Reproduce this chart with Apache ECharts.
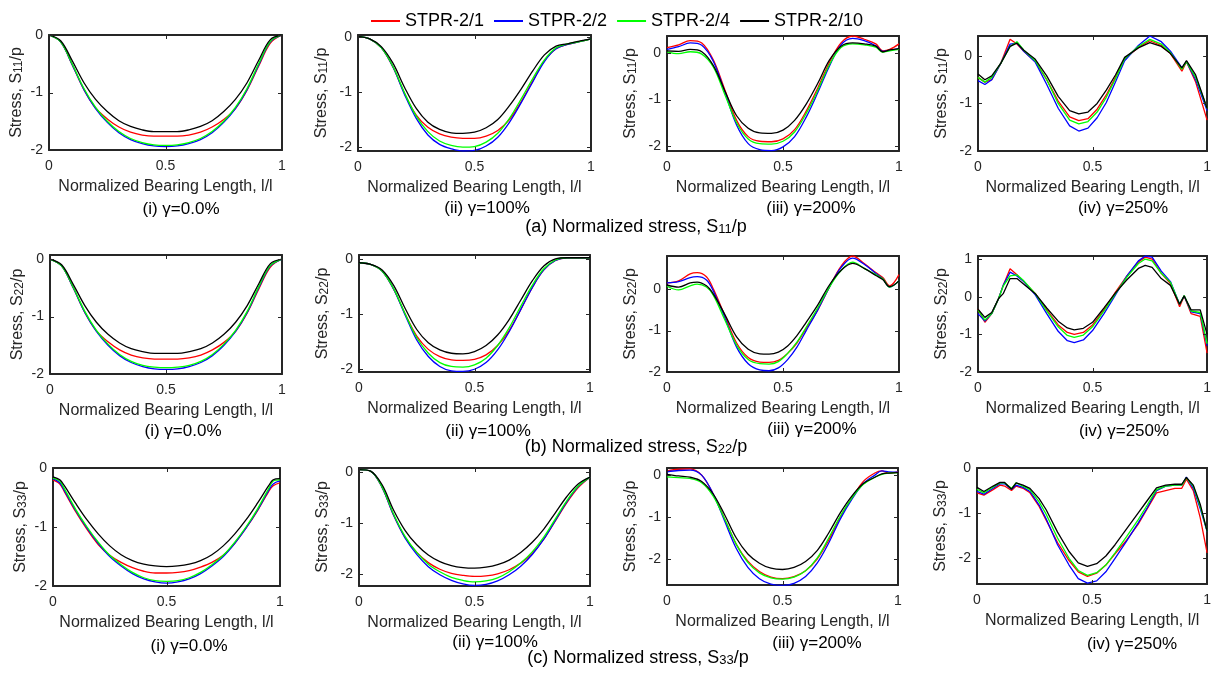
<!DOCTYPE html>
<html>
<head>
<meta charset="utf-8">
<script src="https://cdn.jsdelivr.net/npm/echarts@6/dist/echarts.min.js"></script>
<style>
  html, body { margin: 0; padding: 0; background: #ffffff; }
  #chart { width: 1214px; height: 675px; }
</style>
</head>
<body>
<div id="chart"></div>
<script>
// ---- Series identity ----
const seriesNames = ['STPR-2/1', 'STPR-2/2', 'STPR-2/4', 'STPR-2/10'];
const seriesColors = ['#ff0000', '#0000ff', '#00ff00', '#000000'];

// ---- Tick values / labels ----
const xTicks = [0, 0.5, 1];
const yTicksStd = [-2, -1, 0];
const yTicksWide = [-2, -1, 0, 1];
const gammaLabels = ['(i) γ=0.0%', '(ii) γ=100%', '(iii) γ=200%', '(iv) γ=250%'];
const rowCaptions = ['(a) Normalized stress, S{s|11}/p', '(b) Normalized stress, S{s|22}/p', '(c) Normalized stress, S{s|33}/p'];
const yNames = ['Stress, S{s|11}/p', 'Stress, S{s|22}/p', 'Stress, S{s|33}/p'];
const xName = 'Normalized Bearing Length, l/l';

// ---- Normalized bearing length sample positions ----
const xUniform = [0, 0.05, 0.1, 0.15, 0.2, 0.25, 0.3, 0.35, 0.4, 0.45, 0.5, 0.55, 0.6, 0.65, 0.7, 0.75, 0.8, 0.85, 0.9, 0.95, 1];
const xEndDense = [0, 0.05, 0.1, 0.15, 0.2, 0.25, 0.3, 0.35, 0.4, 0.45, 0.5, 0.55, 0.6, 0.65, 0.7, 0.75, 0.8, 0.85, 0.9, 0.93, 0.96, 1];
const xS33g0 = [0, 0.03, 0.05, 0.1, 0.15, 0.2, 0.25, 0.3, 0.35, 0.4, 0.45, 0.5, 0.55, 0.6, 0.65, 0.7, 0.75, 0.8, 0.85, 0.9, 0.95, 0.97, 1];
const xS11g250 = [0, 0.03, 0.06, 0.1, 0.14, 0.17, 0.2, 0.25, 0.3, 0.35, 0.4, 0.44, 0.48, 0.52, 0.56, 0.6, 0.64, 0.7, 0.75, 0.8, 0.84, 0.89, 0.91, 0.95, 1];
const xS22g200 = [0, 0.05, 0.1, 0.13, 0.17, 0.2, 0.25, 0.3, 0.35, 0.4, 0.44, 0.48, 0.52, 0.56, 0.6, 0.65, 0.7, 0.75, 0.8, 0.85, 0.9, 0.93, 0.96, 1];
const xS22g250 = [0, 0.03, 0.06, 0.09, 0.11, 0.14, 0.17, 0.2, 0.25, 0.3, 0.35, 0.39, 0.42, 0.46, 0.5, 0.55, 0.6, 0.65, 0.7, 0.73, 0.76, 0.8, 0.84, 0.88, 0.9, 0.93, 0.97, 1];
const xS33g250 = [0, 0.03, 0.07, 0.1, 0.12, 0.15, 0.17, 0.2, 0.23, 0.27, 0.3, 0.35, 0.4, 0.44, 0.48, 0.52, 0.56, 0.6, 0.65, 0.7, 0.74, 0.78, 0.82, 0.86, 0.89, 0.91, 0.94, 0.97, 1];

// ---- S11/p (rows: STPR-2/1, 2/2, 2/4, 2/10) ----
const s11g0 = [
  [0, -0.12, -0.52, -0.95, -1.27, -1.46, -1.6, -1.69, -1.74, -1.76, -1.76, -1.76, -1.74, -1.69, -1.6, -1.47, -1.28, -0.96, -0.54, -0.14, 0],
  [0, -0.12, -0.52, -0.95, -1.28, -1.52, -1.7, -1.82, -1.89, -1.93, -1.94, -1.93, -1.89, -1.82, -1.7, -1.52, -1.28, -0.95, -0.52, -0.12, 0],
  [0, -0.12, -0.51, -0.93, -1.26, -1.5, -1.68, -1.8, -1.87, -1.91, -1.92, -1.91, -1.87, -1.8, -1.68, -1.5, -1.26, -0.93, -0.5, -0.11, 0],
  [0, -0.1, -0.45, -0.83, -1.12, -1.33, -1.49, -1.59, -1.65, -1.68, -1.68, -1.68, -1.65, -1.59, -1.49, -1.33, -1.12, -0.83, -0.44, -0.08, 0]
];
const s11g100 = [
  [0, -0.04, -0.2, -0.55, -1.03, -1.42, -1.64, -1.76, -1.82, -1.84, -1.84, -1.8, -1.7, -1.5, -1.18, -0.8, -0.44, -0.22, -0.14, -0.09, -0.04],
  [0, -0.04, -0.2, -0.55, -1.05, -1.48, -1.78, -1.95, -2.03, -2.07, -2.06, -1.98, -1.82, -1.55, -1.2, -0.82, -0.45, -0.22, -0.14, -0.09, -0.04],
  [0, -0.04, -0.2, -0.54, -1.02, -1.44, -1.72, -1.89, -1.97, -2.0, -1.99, -1.91, -1.75, -1.48, -1.13, -0.76, -0.42, -0.2, -0.13, -0.09, -0.04],
  [0, -0.04, -0.18, -0.48, -0.92, -1.3, -1.55, -1.68, -1.74, -1.75, -1.73, -1.65, -1.5, -1.25, -0.95, -0.62, -0.33, -0.17, -0.13, -0.08, -0.04]
];
const s11g200 = [
  [0.12, 0.18, 0.27, 0.22, -0.15, -0.8, -1.45, -1.8, -1.9, -1.91, -1.85, -1.65, -1.25, -0.75, -0.2, 0.22, 0.37, 0.3, 0.2, 0.05, 0.08, 0.2],
  [0.08, 0.14, 0.22, 0.17, -0.18, -0.85, -1.55, -1.95, -2.08, -2.1, -2.02, -1.8, -1.38, -0.85, -0.28, 0.18, 0.32, 0.27, 0.16, 0.04, 0.06, 0.1],
  [0.03, -0.01, 0.03, -0.02, -0.3, -0.9, -1.5, -1.85, -1.95, -1.96, -1.9, -1.7, -1.3, -0.8, -0.25, 0.12, 0.2, 0.18, 0.13, 0.02, 0.05, 0.08],
  [0.05, 0.04, 0.08, 0.03, -0.27, -0.82, -1.35, -1.62, -1.72, -1.73, -1.66, -1.45, -1.1, -0.65, -0.15, 0.15, 0.22, 0.2, 0.15, 0.03, 0.07, 0.1]
];
const s11g250 = [
  [-0.45, -0.55, -0.5, -0.15, 0.35, 0.25, 0.1, -0.12, -0.5, -0.95, -1.28, -1.36, -1.32, -1.12, -0.82, -0.45, -0.06, 0.18, 0.32, 0.22, 0.05, -0.32, -0.12, -0.55, -1.35],
  [-0.52, -0.6, -0.5, -0.15, 0.25, 0.27, 0.1, -0.13, -0.6, -1.1, -1.47, -1.58, -1.52, -1.3, -0.98, -0.55, -0.1, 0.22, 0.42, 0.3, 0.1, -0.25, -0.12, -0.5, -1.15],
  [-0.45, -0.55, -0.45, -0.15, 0.2, 0.3, 0.12, -0.1, -0.5, -1.0, -1.35, -1.43, -1.38, -1.18, -0.87, -0.48, -0.06, 0.2, 0.35, 0.25, 0.07, -0.28, -0.12, -0.45, -1.1],
  [-0.38, -0.5, -0.42, -0.15, 0.2, 0.27, 0.12, -0.07, -0.42, -0.85, -1.15, -1.22, -1.18, -1.0, -0.72, -0.4, -0.03, 0.17, 0.28, 0.2, 0.05, -0.25, -0.1, -0.4, -1.1]
];

// ---- S22/p ----
const s22g0 = [
  [0, -0.12, -0.5, -0.93, -1.25, -1.44, -1.58, -1.67, -1.72, -1.74, -1.74, -1.74, -1.72, -1.67, -1.58, -1.45, -1.26, -0.94, -0.52, -0.14, 0],
  [0, -0.12, -0.5, -0.93, -1.26, -1.5, -1.68, -1.8, -1.87, -1.91, -1.92, -1.91, -1.87, -1.8, -1.68, -1.5, -1.26, -0.93, -0.5, -0.12, 0],
  [0, -0.12, -0.49, -0.91, -1.24, -1.48, -1.66, -1.78, -1.85, -1.88, -1.89, -1.88, -1.85, -1.78, -1.66, -1.48, -1.24, -0.91, -0.48, -0.11, 0],
  [0, -0.1, -0.44, -0.81, -1.1, -1.31, -1.46, -1.56, -1.61, -1.64, -1.64, -1.64, -1.61, -1.56, -1.46, -1.31, -1.1, -0.81, -0.43, -0.08, 0]
];
const s22g100 = [
  [-0.07, -0.1, -0.22, -0.55, -1.0, -1.4, -1.64, -1.77, -1.83, -1.84, -1.82, -1.74, -1.57, -1.3, -0.92, -0.52, -0.2, -0.03, 0.02, 0.02, 0.02],
  [-0.07, -0.1, -0.22, -0.55, -1.02, -1.47, -1.77, -1.95, -2.03, -2.04, -2.0, -1.88, -1.65, -1.32, -0.92, -0.52, -0.2, -0.03, 0.02, 0.02, 0.02],
  [-0.07, -0.1, -0.22, -0.54, -1.0, -1.43, -1.71, -1.88, -1.95, -1.96, -1.92, -1.8, -1.57, -1.25, -0.86, -0.48, -0.18, -0.02, 0.02, 0.02, 0.02],
  [-0.07, -0.1, -0.2, -0.48, -0.9, -1.28, -1.52, -1.65, -1.71, -1.72, -1.68, -1.57, -1.38, -1.1, -0.75, -0.4, -0.13, 0.0, 0.02, 0.02, 0.02]
];
const s22g200 = [
  [0.15, 0.2, 0.37, 0.4, 0.3, 0.0, -0.65, -1.3, -1.65, -1.76, -1.77, -1.72, -1.55, -1.3, -0.95, -0.5, 0.05, 0.55, 0.8, 0.62, 0.4, 0.28, 0.08, 0.35],
  [0.15, 0.18, 0.28, 0.3, 0.22, -0.05, -0.7, -1.4, -1.8, -1.95, -1.97, -1.9, -1.7, -1.4, -1.0, -0.5, 0.05, 0.52, 0.75, 0.6, 0.38, 0.25, 0.05, 0.2],
  [0.07, -0.02, 0.08, 0.12, 0.05, -0.15, -0.75, -1.35, -1.7, -1.8, -1.81, -1.75, -1.55, -1.28, -0.92, -0.45, 0.05, 0.45, 0.65, 0.5, 0.35, 0.25, 0.05, 0.2],
  [0.1, 0.05, 0.15, 0.17, 0.08, -0.12, -0.62, -1.15, -1.45, -1.56, -1.57, -1.52, -1.37, -1.12, -0.8, -0.38, 0.1, 0.45, 0.62, 0.5, 0.33, 0.23, 0.06, 0.2]
];
const s22g250 = [
  [-0.33, -0.68, -0.45, -0.05, 0.3, 0.74, 0.58, 0.4, 0.08, -0.35, -0.75, -0.95, -1.0, -0.95, -0.75, -0.35, 0.12, 0.55, 0.92, 1.05, 1.0, 0.62, 0.35, -0.27, 0.02, -0.45, -0.52, -1.5],
  [-0.45, -0.65, -0.45, -0.05, 0.3, 0.65, 0.55, 0.4, 0.05, -0.45, -0.92, -1.17, -1.22, -1.15, -0.9, -0.45, 0.05, 0.55, 0.95, 1.08, 1.05, 0.68, 0.4, -0.2, 0.02, -0.4, -0.45, -1.3],
  [-0.35, -0.62, -0.45, -0.05, 0.28, 0.55, 0.58, 0.42, 0.08, -0.38, -0.8, -1.03, -1.08, -1.02, -0.8, -0.38, 0.08, 0.52, 0.88, 1.0, 0.95, 0.62, 0.38, -0.2, 0.03, -0.38, -0.42, -1.25],
  [-0.33, -0.55, -0.42, -0.05, 0.08, 0.48, 0.48, 0.33, 0.08, -0.3, -0.65, -0.83, -0.88, -0.84, -0.68, -0.3, 0.1, 0.45, 0.75, 0.83, 0.78, 0.48, 0.3, -0.2, 0.02, -0.35, -0.35, -1.0]
];

// ---- S33/p ----
const s33g0 = [
  [-0.2, -0.27, -0.4, -0.74, -1.04, -1.3, -1.48, -1.6, -1.69, -1.75, -1.78, -1.78, -1.77, -1.74, -1.68, -1.6, -1.48, -1.28, -1.02, -0.73, -0.4, -0.3, -0.25],
  [-0.18, -0.25, -0.38, -0.72, -1.02, -1.28, -1.5, -1.66, -1.79, -1.88, -1.93, -1.95, -1.93, -1.88, -1.79, -1.66, -1.5, -1.28, -1.02, -0.72, -0.38, -0.27, -0.22],
  [-0.17, -0.22, -0.35, -0.7, -1.0, -1.26, -1.48, -1.64, -1.77, -1.86, -1.91, -1.92, -1.91, -1.86, -1.77, -1.64, -1.48, -1.26, -1.0, -0.7, -0.35, -0.22, -0.2],
  [-0.15, -0.2, -0.3, -0.6, -0.88, -1.12, -1.32, -1.47, -1.57, -1.63, -1.66, -1.67, -1.66, -1.63, -1.57, -1.47, -1.32, -1.12, -0.88, -0.6, -0.3, -0.2, -0.18]
];
const s33g100 = [
  [0.05, 0.02, -0.3, -0.85, -1.29, -1.58, -1.78, -1.91, -1.99, -2.03, -2.05, -2.04, -2.0, -1.92, -1.79, -1.6, -1.32, -0.96, -0.6, -0.3, -0.1],
  [0.05, 0.02, -0.3, -0.85, -1.3, -1.62, -1.86, -2.02, -2.13, -2.2, -2.23, -2.21, -2.14, -2.02, -1.85, -1.62, -1.32, -0.95, -0.58, -0.28, -0.1],
  [0.05, 0.02, -0.29, -0.83, -1.27, -1.58, -1.81, -1.96, -2.07, -2.13, -2.16, -2.14, -2.08, -1.96, -1.79, -1.57, -1.28, -0.92, -0.56, -0.27, -0.1],
  [0.05, 0.02, -0.25, -0.75, -1.15, -1.43, -1.63, -1.76, -1.84, -1.88, -1.89, -1.87, -1.82, -1.73, -1.58, -1.38, -1.12, -0.8, -0.48, -0.23, -0.1]
];
const s33g200 = [
  [0.1, 0.14, 0.15, 0.0, -0.45, -1.05, -1.65, -2.05, -2.3, -2.43, -2.47, -2.42, -2.28, -2.0, -1.55, -1.0, -0.55, -0.15, 0.05, 0.1, 0.05, 0.08],
  [0.08, 0.11, 0.12, 0.0, -0.45, -1.1, -1.75, -2.2, -2.47, -2.6, -2.63, -2.58, -2.42, -2.1, -1.62, -1.05, -0.58, -0.2, 0.0, 0.1, 0.08, 0.07],
  [-0.04, -0.06, -0.08, -0.18, -0.5, -1.05, -1.65, -2.08, -2.33, -2.45, -2.48, -2.43, -2.28, -1.98, -1.5, -0.98, -0.55, -0.22, -0.05, 0.02, 0.05, 0.06],
  [0.02, -0.02, -0.05, -0.15, -0.45, -0.95, -1.5, -1.88, -2.1, -2.22, -2.25, -2.2, -2.06, -1.8, -1.38, -0.9, -0.5, -0.2, -0.05, 0.03, 0.05, 0.06]
];
const s33g250 = [
  [-0.55, -0.6, -0.48, -0.38, -0.4, -0.5, -0.4, -0.45, -0.55, -0.85, -1.15, -1.65, -2.05, -2.3, -2.4, -2.33, -2.15, -1.9, -1.6, -1.25, -0.9, -0.55, -0.5, -0.45, -0.45, -0.25, -0.5, -1.1, -1.88],
  [-0.52, -0.58, -0.45, -0.35, -0.35, -0.47, -0.38, -0.43, -0.52, -0.82, -1.12, -1.7, -2.15, -2.45, -2.55, -2.5, -2.3, -2.0, -1.62, -1.22, -0.88, -0.5, -0.4, -0.38, -0.38, -0.2, -0.45, -0.9, -1.4],
  [-0.47, -0.55, -0.42, -0.33, -0.33, -0.45, -0.33, -0.4, -0.48, -0.75, -1.02, -1.55, -2.0, -2.27, -2.38, -2.32, -2.15, -1.88, -1.52, -1.15, -0.82, -0.48, -0.4, -0.38, -0.38, -0.22, -0.4, -0.85, -1.4],
  [-0.43, -0.52, -0.4, -0.32, -0.32, -0.47, -0.33, -0.38, -0.45, -0.68, -0.92, -1.42, -1.85, -2.1, -2.18, -2.12, -1.95, -1.7, -1.35, -1.0, -0.72, -0.44, -0.38, -0.36, -0.36, -0.21, -0.38, -0.8, -1.4]
];

// ---- Panels: data source, y extent and plot box (left, top, width, height) ----
const panels = [
  { row: 0, col: 0, x: xUniform,  ys: s11g0,   yMin: -2,    yMax: 0,    yTicks: yTicksStd,  box: [49, 35, 233, 115],  smooth: true,  nameGap: 24 },
  { row: 0, col: 1, x: xUniform,  ys: s11g100, yMin: -2.07, yMax: 0.03, yTicks: yTicksStd,  box: [358, 35, 233, 116], smooth: true,  nameGap: 28 },
  { row: 0, col: 2, x: xEndDense, ys: s11g200, yMin: -2.11, yMax: 0.37, yTicks: yTicksStd,  box: [667, 36, 232, 115], smooth: true,  nameGap: 28 },
  { row: 0, col: 3, x: xS11g250,  ys: s11g250, yMin: -2,    yMax: 0.42, yTicks: yTicksStd,  box: [978, 36, 232, 115], smooth: false, nameGap: 28 },
  { row: 1, col: 0, x: xUniform,  ys: s22g0,   yMin: -2,    yMax: 0.07, yTicks: yTicksStd,  box: [50, 255, 232, 119], smooth: true,  nameGap: 24 },
  { row: 1, col: 1, x: xUniform,  ys: s22g100, yMin: -2.05, yMax: 0.07, yTicks: yTicksStd,  box: [359, 255, 231, 117], smooth: true,  nameGap: 28 },
  { row: 1, col: 2, x: xS22g200,  ys: s22g200, yMin: -2,    yMax: 0.8,  yTicks: yTicksStd,  box: [667, 256, 232, 116], smooth: true,  nameGap: 28 },
  { row: 1, col: 3, x: xS22g250,  ys: s22g250, yMin: -2,    yMax: 1.08, yTicks: yTicksWide, box: [978, 256, 232, 116], smooth: false, nameGap: 28 },
  { row: 2, col: 0, x: xS33g0,    ys: s33g0,   yMin: -2,    yMax: 0,    yTicks: yTicksStd,  box: [53, 468, 227, 118],  smooth: true,  nameGap: 24 },
  { row: 2, col: 1, x: xUniform,  ys: s33g100, yMin: -2.24, yMax: 0.08, yTicks: yTicksStd,  box: [359, 468, 231, 118], smooth: true,  nameGap: 28 },
  { row: 2, col: 2, x: xEndDense, ys: s33g200, yMin: -2.62, yMax: 0.17, yTicks: yTicksStd,  box: [667, 468, 231, 117], smooth: true,  nameGap: 28 },
  { row: 2, col: 3, x: xS33g250,  ys: s33g250, yMin: -2.57, yMax: 0,    yTicks: yTicksStd,  box: [977, 468, 233, 116], smooth: false, nameGap: 28 }
];

// Caption anchor points (centre of text)
const gammaPos = [
  [[181, 209], [487, 208], [811, 208], [1123, 208]],
  [[183, 431], [488, 431], [812, 429], [1124, 431]],
  [[189, 646], [495, 642], [817, 643], [1132, 644]]
];
const rowCaptionPos = [[636, 227], [636, 447], [638, 658]];

const FONT = '"Liberation Sans", Arial, Helvetica, sans-serif';
const AXIS_COLOR = '#262626';
const TICK_LEN = 4;
const subRich = { s: { fontSize: 12, lineHeight: 12, padding: [8, 0, 0, 0], verticalAlign: 'bottom', fontFamily: FONT, color: AXIS_COLOR } };

const grid = [], xAxis = [], yAxis = [], series = [], captions = [];

// Each box edge is an axis line.
function edgeLine() {
  return { show: true, onZero: false, lineStyle: { color: AXIS_COLOR, width: 2 } };
}

panels.forEach((p, i) => {
  const [l, t, w, h] = p.box;
  grid.push({ left: l, top: t, width: w, height: h, show: false, containLabel: false });

  xAxis.push({
    gridIndex: i, type: 'value', min: 0, max: 1, position: 'bottom',
    axisLine: edgeLine(), splitLine: { show: false }, axisTick: { show: false },
    axisLabel: { customValues: xTicks, margin: 9, fontSize: 14, color: AXIS_COLOR, fontFamily: FONT },
    name: xName, nameLocation: 'middle', nameGap: 29,
    nameTextStyle: { fontSize: 16, color: AXIS_COLOR, fontFamily: FONT }
  });
  xAxis.push({
    gridIndex: i, type: 'value', min: 0, max: 1, position: 'top',
    axisLine: edgeLine(), splitLine: { show: false }, axisTick: { show: false },
    axisLabel: { show: false }
  });

  yAxis.push({
    gridIndex: i, type: 'value', min: p.yMin, max: p.yMax, position: 'left',
    axisLine: edgeLine(), splitLine: { show: false }, axisTick: { show: false },
    axisLabel: { customValues: p.yTicks, margin: 6, fontSize: 14, color: AXIS_COLOR, fontFamily: FONT },
    name: yNames[p.row], nameLocation: 'middle', nameGap: p.nameGap, nameRotate: 90,
    nameTextStyle: { fontSize: 16, lineHeight: 16, color: AXIS_COLOR, fontFamily: FONT, rich: subRich }
  });
  yAxis.push({
    gridIndex: i, type: 'value', min: p.yMin, max: p.yMax, position: 'right',
    axisLine: edgeLine(), splitLine: { show: false }, axisTick: { show: false },
    axisLabel: { show: false }
  });

  p.ys.forEach((vals, k) => {
    series.push({
      type: 'line', name: seriesNames[k],
      xAxisIndex: 2 * i, yAxisIndex: 2 * i,
      data: p.x.map((xv, j) => [xv, vals[j]]),
      symbol: 'none', showSymbol: false,
      smooth: p.smooth ? 0.35 : false,
      lineStyle: { color: seriesColors[k], width: 1.3 },
      itemStyle: { color: seriesColors[k] },
      emphasis: { disabled: true },
      z: 2
    });
  });

  const gp = gammaPos[p.row][p.col];
  captions.push({
    type: 'text', x: gp[0], y: gp[1], silent: true,
    style: { text: gammaLabels[p.col], fill: '#000', font: '17px ' + FONT, align: 'center', verticalAlign: 'middle' }
  });
});

rowCaptions.forEach((txt, r) => {
  captions.push({
    type: 'text', x: rowCaptionPos[r][0], y: rowCaptionPos[r][1], silent: true,
    style: {
      text: txt, fill: '#000', fontSize: 18, fontFamily: FONT, lineHeight: 18,
      align: 'center', verticalAlign: 'middle',
      rich: { s: { fontSize: 13, lineHeight: 13, padding: [9, 0, 0, 0], verticalAlign: 'bottom', fontFamily: FONT, fill: '#000' } }
    }
  });
});

const chart = echarts.init(document.getElementById('chart'), null, { renderer: 'canvas' });
chart.setOption({
  animation: false,
  backgroundColor: '#ffffff',
  legend: {
    data: seriesNames, left: 366, top: 7, icon: 'rect', itemWidth: 29, itemHeight: 2, itemGap: 10,
    textStyle: { fontSize: 18, color: '#000', fontFamily: FONT }
  },
  grid, xAxis, yAxis, series, graphic: captions
});

// Inward tick marks on all four box edges, placed through each panel's own scales.
function tickSeg(x1, y1, x2, y2) {
  return { type: 'line', silent: true, z: 50,
    shape: { x1: x1, y1: y1, x2: x2, y2: y2 },
    style: { stroke: AXIS_COLOR, lineWidth: 1 } };
}
const tickMarks = [];
panels.forEach((p, i) => {
  const finder = { xAxisIndex: 2 * i, yAxisIndex: 2 * i };
  const lo = chart.convertToPixel(finder, [0, p.yMin]);
  const hi = chart.convertToPixel(finder, [1, p.yMax]);
  xTicks.forEach(v => {
    const px = Math.round(chart.convertToPixel(finder, [v, p.yMin])[0]) + 0.5;
    tickMarks.push(tickSeg(px, lo[1], px, lo[1] - TICK_LEN));
    tickMarks.push(tickSeg(px, hi[1], px, hi[1] + TICK_LEN));
  });
  p.yTicks.forEach(v => {
    const py = Math.round(chart.convertToPixel(finder, [0, v])[1]) + 0.5;
    tickMarks.push(tickSeg(lo[0], py, lo[0] + TICK_LEN, py));
    tickMarks.push(tickSeg(hi[0], py, hi[0] - TICK_LEN, py));
  });
});
chart.setOption({ graphic: captions.concat(tickMarks) });
</script>
</body>
</html>
